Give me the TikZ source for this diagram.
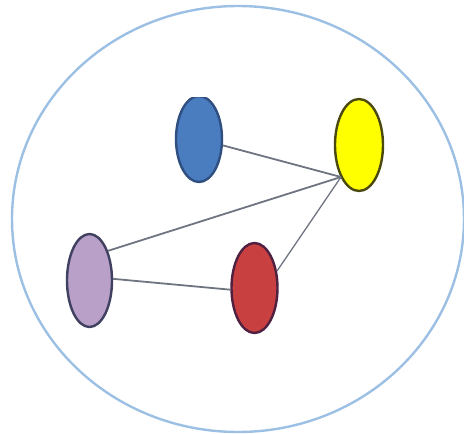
\documentclass[tikz,border=0pt]{standalone}
\usetikzlibrary{shapes.geometric}
\definecolor{framec}{HTML}{9CC0E4}
\definecolor{edgec}{HTML}{6E7480}
\definecolor{bluef}{HTML}{4A7CC0}
\definecolor{blued}{HTML}{2F4F80}
\definecolor{yelf}{HTML}{FFFF00}
\definecolor{yeld}{HTML}{4A4A10}
\definecolor{purf}{HTML}{B8A0C8}
\definecolor{purd}{HTML}{404060}
\definecolor{redf}{HTML}{C84040}
\definecolor{redd}{HTML}{502040}
\begin{document}
\begin{tikzpicture}[x=1pt,y=-1pt,
  blob/.style={ellipse,inner sep=0pt,line width=2.4pt},
  link/.style={draw=edgec,line width=1.8pt}]
\useasboundingbox (0,0) rectangle (464,434);
\node[ellipse,draw=framec,line width=2.4pt,minimum width=452pt,minimum height=426pt,inner sep=0pt] (frame) at (238,219) {};
\begin{scope}
\clip (0,97) rectangle (464,434);
\node[blob,draw=blued,fill=bluef,minimum width=46pt,minimum height=86pt] (blue) at (199,139) {};
\end{scope}
\node[blob,draw=yeld,fill=yelf,minimum width=48pt,minimum height=92pt] (yellow) at (359,145) {};
\node[blob,draw=purd,fill=purf,minimum width=45pt,minimum height=93pt] (purple) at (89.5,280.5) {};
\node[blob,draw=redd,fill=redf,minimum width=46pt,minimum height=90pt] (red) at (254.5,288) {};
\coordinate (hub) at (341,177);
\draw[link] (blue) -- (hub);
\draw[link] (purple.58) -- (hub);
\draw[link] (purple.4) -- (red.184);
\draw[link,line width=1.3pt] (red.37) -- (hub);
\end{tikzpicture}
\end{document}
